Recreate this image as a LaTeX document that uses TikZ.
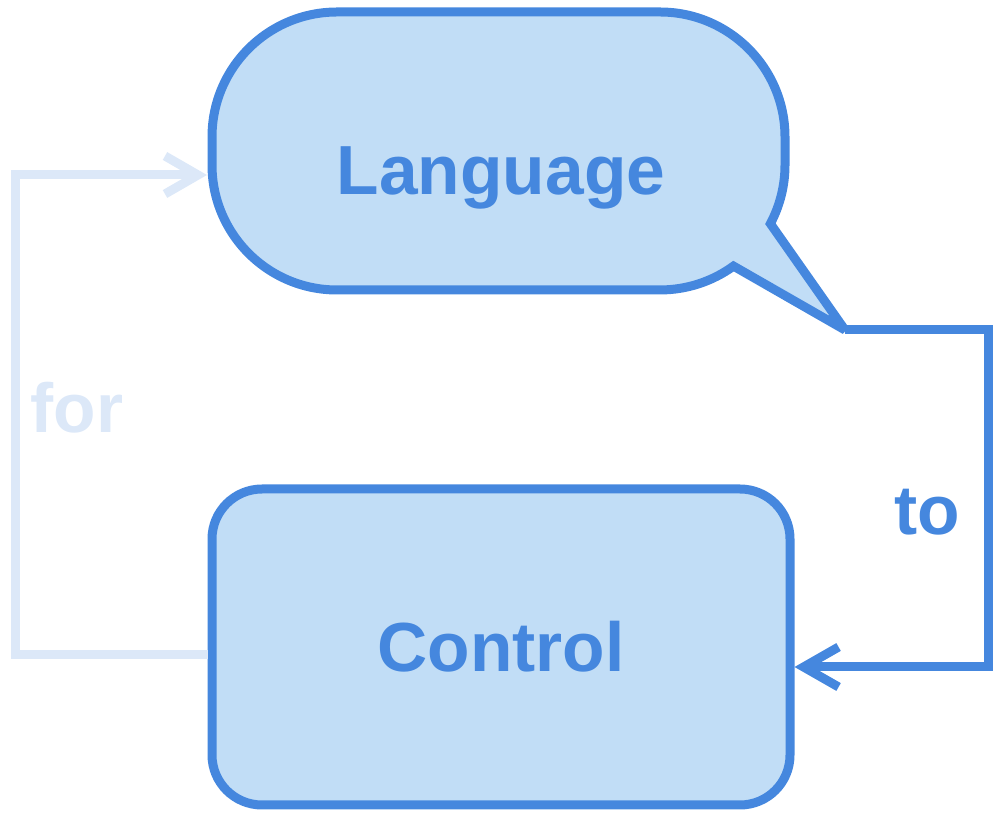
\documentclass[tikz,border=0pt]{standalone}
\usepackage{fontspec}
\setmainfont{Liberation Sans}
\usetikzlibrary{arrows.meta}
\definecolor{blueline}{HTML}{4587DE}
\definecolor{bluefill}{HTML}{C1DDF6}
\definecolor{paleline}{HTML}{DCE8F8}
\begin{document}
\begin{tikzpicture}[x=1pt,y=1pt,
  lbl/.style={font=\fontsize{69.5}{80}\selectfont\bfseries, inner sep=0pt},
  boxstyle/.style={draw=blueline, fill=bluefill, line width=9pt},
  toline/.style={draw=blueline, line width=9pt, -{Straight Barb[sharp,length=35pt,width=40pt]}},
  forline/.style={draw=paleline, line width=9pt, -{Straight Barb[sharp,length=33pt,width=38pt]}}]
\useasboundingbox (0,0) rectangle (998,824);
% speech bubble
\path[boxstyle, miter limit=2] (212,659) -- (212,687)
  arc[start angle=180,end angle=90,radius=125] -- (660,812)
  arc[start angle=90,end angle=0,radius=125] -- (785,659)
  arc[start angle=0,end angle=-28,radius=125] -- (845,494) -- (733.5,557.9)
  arc[start angle=-54,end angle=-90,radius=125] -- (337,534)
  arc[start angle=-90,end angle=-180,radius=125] -- cycle;
\node[lbl, text=blueline, anchor=base] (lang) at (501,629) {Language};
\coordinate (tip) at (845,494);
\coordinate (langW) at (207,649);
% control box
\node[boxstyle, rounded corners=50pt, minimum width=578pt, minimum height=316pt, lbl, text=blueline] (ctrl) at (501,177) {Control};
% connectors
\draw[toline] (tip) -- ++(143,0) |- ([yshift=-20pt]ctrl.east);
\draw[forline] ([yshift=-8pt]ctrl.west) -- ++(-192,0) |- (langW);
% labels
\node[lbl, text=blueline, anchor=base] (tolbl) at (927,289) {to};
\node[lbl, text=paleline, anchor=base] (forlbl) at (77,391) {for};
\end{tikzpicture}
\end{document}
